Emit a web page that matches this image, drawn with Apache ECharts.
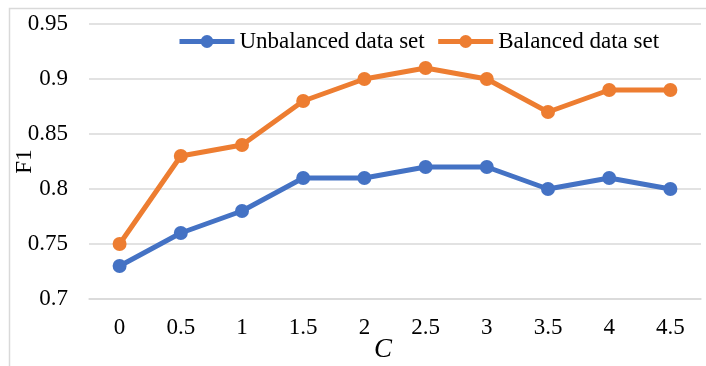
<!DOCTYPE html>
<html>
<head>
<meta charset="utf-8">
<script src="https://cdn.jsdelivr.net/npm/echarts@6/dist/echarts.min.js"></script>
<style>
html,body{margin:0;padding:0;background:#fff;}
#c{width:706px;height:366px;}
</style>
</head>
<body>
<div id="c"></div>
<script>
var categories = ['0', '0.5', '1', '1.5', '2', '2.5', '3', '3.5', '4', '4.5'];
var unbalanced = [0.73, 0.76, 0.78, 0.81, 0.81, 0.82, 0.82, 0.80, 0.81, 0.80];
var balanced = [0.75, 0.83, 0.84, 0.88, 0.90, 0.91, 0.90, 0.87, 0.89, 0.89];
var seriesNames = ['Unbalanced data set', 'Balanced data set'];

var font = '"Liberation Serif", "Times New Roman", serif';
var chart = echarts.init(document.getElementById('c'), null, {renderer: 'canvas'});
chart.setOption({
  animation: false,
  backgroundColor: '#fff',
  graphic: [{
    type: 'rect', left: 7, top: 6, silent: true,
    shape: {width: 760, height: 400},
    style: {fill: 'none', stroke: '#d9d9d9', lineWidth: 1.5}
  }],
  grid: {left: 89, right: 5, top: 24, bottom: 67, outerBoundsMode: 'none', containLabel: false},
  legend: {
    left: 172, top: 25, itemGap: 11, itemWidth: 55, itemHeight: 16,
    data: seriesNames,
    lineStyle: {width: 5},
    textStyle: {fontFamily: font, fontSize: 23, color: '#000'}
  },
  xAxis: {
    type: 'category', data: categories, boundaryGap: true,
    axisLine: {lineStyle: {color: '#d9d9d9', width: 1.5}},
    axisTick: {show: false},
    axisLabel: {fontFamily: font, fontSize: 23, color: '#000', margin: 17},
    name: 'C', nameLocation: 'middle', nameGap: 37, nameMoveOverlap: false,
    nameTextStyle: {fontFamily: font, fontSize: 27, fontStyle: 'italic', color: '#000', padding: [0, 24, 0, 0]}
  },
  yAxis: {
    type: 'value', min: 0.7, max: 0.95, interval: 0.05,
    axisLine: {show: false}, axisTick: {show: false},
    splitLine: {lineStyle: {color: '#d9d9d9', width: 1.5}},
    axisLabel: {fontFamily: font, fontSize: 23, color: '#000', margin: 21},
    name: 'F1', nameLocation: 'middle', nameGap: 53, nameMoveOverlap: false,
    nameTextStyle: {fontFamily: font, fontSize: 23, color: '#000'}
  },
  series: [
    {name: seriesNames[0], type: 'line', data: unbalanced, symbol: 'circle', symbolSize: 14,
     itemStyle: {color: '#4472C4'}, lineStyle: {width: 5, color: '#4472C4'}},
    {name: seriesNames[1], type: 'line', data: balanced, symbol: 'circle', symbolSize: 14,
     itemStyle: {color: '#ED7D31'}, lineStyle: {width: 5, color: '#ED7D31'}}
  ]
});
</script>
</body>
</html>
